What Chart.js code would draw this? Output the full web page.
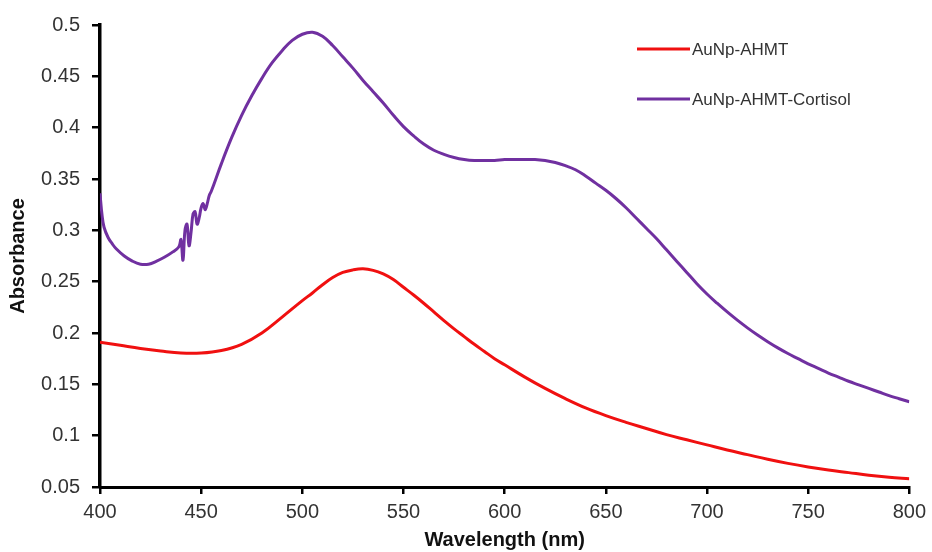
<!DOCTYPE html>
<html>
<head>
<meta charset="utf-8">
<script src="https://cdn.jsdelivr.net/npm/chart.js@4.4.1/dist/chart.umd.min.js"></script>
<style>
  html, body { margin: 0; padding: 0; background: #fff; }
  #wrap { width: 932px; height: 552px; }
</style>
</head>
<body>
<div id="wrap"><canvas id="c" width="932" height="552"></canvas></div>
<script>
// UV-Vis absorbance spectra
const seriesNames = ['AuNp-AHMT', 'AuNp-AHMT-Cortisol'];

const ahmtWavelength = [400, 410, 420, 430, 440, 450, 460, 470, 480, 490, 500, 505, 510, 515, 520, 525, 530, 535, 540, 545, 550, 555, 560, 565, 570, 575, 580, 585, 590, 595, 600, 610, 620, 630, 640, 650, 660, 670, 680, 690, 700, 710, 720, 730, 740, 750, 760, 770, 780, 790, 800];
const ahmtAbsorbance = [0.191, 0.188, 0.185, 0.1825, 0.1805, 0.1805, 0.183, 0.189, 0.200, 0.2155, 0.2315, 0.239, 0.247, 0.254, 0.259, 0.2615, 0.2625, 0.261, 0.2575, 0.252, 0.2445, 0.237, 0.229, 0.2205, 0.212, 0.204, 0.1965, 0.189, 0.182, 0.175, 0.169, 0.157, 0.146, 0.136, 0.127, 0.1195, 0.113, 0.107, 0.101, 0.096, 0.091, 0.086, 0.0815, 0.077, 0.073, 0.0695, 0.0665, 0.064, 0.0615, 0.0595, 0.058];

const cortisolWavelength = [400, 401, 402, 404, 406, 408, 412, 416, 420, 424, 428, 432, 436, 439, 440, 441, 442, 443, 444, 445, 446, 447, 448, 449, 450, 451, 452, 453, 454, 455, 460, 465, 470, 475, 480, 485, 490, 495, 500, 505, 510, 515, 520, 525, 530, 535, 540, 545, 550, 555, 560, 565, 570, 575, 580, 585, 590, 595, 600, 605, 610, 615, 620, 625, 630, 635, 640, 645, 650, 655, 660, 665, 670, 675, 680, 685, 690, 695, 700, 705, 710, 715, 720, 725, 730, 735, 740, 745, 750, 755, 760, 765, 770, 775, 780, 785, 790, 795, 800];
const cortisolAbsorbance = [0.336, 0.315, 0.303, 0.293, 0.287, 0.282, 0.275, 0.270, 0.267, 0.267, 0.270, 0.274, 0.279, 0.284, 0.291, 0.271, 0.300, 0.306, 0.285, 0.298, 0.316, 0.318, 0.306, 0.312, 0.322, 0.326, 0.320, 0.326, 0.334, 0.338, 0.365, 0.390, 0.412, 0.431, 0.448, 0.463, 0.475, 0.485, 0.491, 0.493, 0.489, 0.480, 0.469, 0.458, 0.446, 0.435, 0.424, 0.412, 0.401, 0.392, 0.384, 0.378, 0.374, 0.371, 0.369, 0.368, 0.368, 0.368, 0.369, 0.369, 0.369, 0.369, 0.368, 0.366, 0.363, 0.359, 0.353, 0.346, 0.339, 0.331, 0.322, 0.312, 0.302, 0.292, 0.281, 0.270, 0.259, 0.248, 0.238, 0.229, 0.2205, 0.2125, 0.205, 0.198, 0.1915, 0.1855, 0.180, 0.175, 0.170, 0.1655, 0.161, 0.157, 0.153, 0.1495, 0.146, 0.1425, 0.139, 0.136, 0.133];

const seriesColors = ['#f01010', '#7030a0'];

function toPoints(xs, ys) {
  return xs.map((x, i) => ({ x: x, y: ys[i] }));
}

// Legend drawn inside the plot area, stacked vertically
const insideLegend = {
  id: 'insideLegend',
  afterDraw(chart) {
    const ctx = chart.ctx;
    const rows = [49, 99];
    ctx.save();
    chart.data.datasets.forEach((ds, i) => {
      const y = rows[i];
      ctx.strokeStyle = ds.borderColor;
      ctx.lineWidth = 3;
      ctx.beginPath();
      ctx.moveTo(637, y);
      ctx.lineTo(690, y);
      ctx.stroke();
      ctx.fillStyle = '#333';
      ctx.font = '17px "Liberation Sans", Arial, sans-serif';
      ctx.textBaseline = 'middle';
      ctx.textAlign = 'left';
      ctx.fillText(ds.label, 692, y + 1);
    });
    ctx.restore();
  }
};

const tickFont = { family: '"Liberation Sans", Arial, sans-serif', size: 20 };
const titleFont = { family: '"Liberation Sans", Arial, sans-serif', size: 20, weight: 'bold' };

const lineStyle = {
  borderWidth: 3,
  pointRadius: 0,
  tension: 0.4,
  fill: false
};

new Chart(document.getElementById('c'), {
  type: 'line',
  data: {
    datasets: [
      Object.assign({
        label: seriesNames[0],
        data: toPoints(ahmtWavelength, ahmtAbsorbance),
        borderColor: seriesColors[0]
      }, lineStyle),
      Object.assign({
        label: seriesNames[1],
        data: toPoints(cortisolWavelength, cortisolAbsorbance),
        borderColor: seriesColors[1]
      }, lineStyle)
    ]
  },
  options: {
    responsive: false,
    animation: false,
    layout: { padding: { top: 25, right: 22, left: 0, bottom: 0 } },
    plugins: {
      legend: { display: false },
      tooltip: { enabled: false }
    },
    scales: {
      x: {
        type: 'linear',
        min: 400,
        max: 800,
        afterFit(axis) { axis.height = 65; },
        ticks: {
          stepSize: 50,
          color: '#333',
          font: tickFont,
          padding: 6,
          maxRotation: 0
        },
        grid: {
          drawOnChartArea: false,
          drawTicks: true,
          tickLength: 7,
          color: '#000',
          lineWidth: 2.5
        },
        border: { display: true, color: '#000', width: 3 },
        title: {
          display: true,
          text: 'Wavelength (nm)',
          color: '#111',
          font: titleFont,
          padding: { top: 0, bottom: 0 }
        }
      },
      y: {
        type: 'linear',
        min: 0.05,
        max: 0.5,
        afterFit(axis) { axis.width = 100; },
        ticks: {
          stepSize: 0.05,
          color: '#333',
          font: tickFont,
          padding: 12,
          callback: (v) => String(Number(v.toFixed(2)))
        },
        grid: {
          drawOnChartArea: false,
          drawTicks: true,
          tickLength: 8,
          color: '#000',
          lineWidth: 2.5
        },
        border: { display: true, color: '#000', width: 3.5 },
        title: {
          display: true,
          text: 'Absorbance',
          color: '#111',
          font: titleFont,
          padding: { top: 6, bottom: 4 }
        }
      }
    }
  },
  plugins: [insideLegend]
});
</script>
</body>
</html>
